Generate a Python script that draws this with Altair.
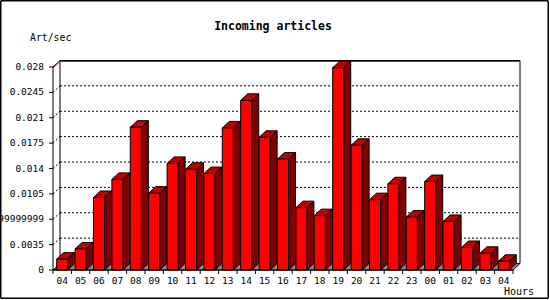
import altair as alt
import pandas as pd

# ---------------- data ----------------
HOURS = ["04", "05", "06", "07", "08", "09", "10", "11", "12", "13", "14", "15", "16",
         "17", "18", "19", "20", "21", "22", "23", "00", "01", "02", "03", "04"]
ART_PER_SEC = [0.0015, 0.0029, 0.0100, 0.0125, 0.0197, 0.0106, 0.0147, 0.0139, 0.0133,
               0.0196, 0.0234, 0.0183, 0.0153, 0.0086, 0.0075, 0.0279, 0.0172, 0.0097,
               0.0119, 0.0073, 0.0122, 0.0067, 0.0031, 0.0023, 0.0012]
Y_TICKS = [0, 0.0035, 0.007, 0.0105, 0.014, 0.0175, 0.021, 0.0245, 0.028]
Y_TICK_LABELS = ["0", "0.0035", "0.006999999999999999", "0.0105", "0.014", "0.0175",
                 "0.021", "0.0245", "0.028"]
TITLE = "Incoming articles"
Y_TITLE = "Art/sec"
X_TITLE = "Hours"

# ---------------- geometry / style ----------------
W, H = 460, 203
N = len(HOURS)
Y_MAX = Y_TICKS[-1]
DEPTH_X_PX, DEPTH_Y_PX = 7, 6.5
DX = DEPTH_X_PX * N / W          # depth in x data units
DY = DEPTH_Y_PX * Y_MAX / H      # depth in y data units
BAR_L, BAR_R = 0.2, 0.8
FONT = "DejaVu Sans Mono"

xs = alt.Scale(domain=[0, N], nice=False, zero=False)
ys = alt.Scale(domain=[0, Y_MAX], nice=False, zero=False)

# ---------------- tables ----------------
front = pd.DataFrame({
    "i": list(range(N)),
    "hour": HOURS,
    "v": ART_PER_SEC,
})
front["x0"] = front["i"] + BAR_L
front["x1"] = front["i"] + BAR_R
front["xc"] = front["i"] + 0.5
front["y0"] = 0.0

side_rows, top_rows = [], []
for i, v in enumerate(ART_PER_SEC):
    side_rows.append({"bar": i, "x": i + BAR_R, "y": v, "y2": 0.0})
    side_rows.append({"bar": i, "x": i + BAR_R + DX, "y": v + DY, "y2": DY})
    top_rows.append({"bar": i, "y": v, "x": i + BAR_L, "x2": i + BAR_R})
    top_rows.append({"bar": i, "y": v + DY, "x": i + BAR_L + DX, "x2": i + BAR_R + DX})
side = pd.DataFrame(side_rows)
top = pd.DataFrame(top_rows)

grid = pd.DataFrame({"t": Y_TICKS[1:-1]})
grid["tb"] = grid["t"] + DY
grid["xa"] = DX
grid["xb"] = N + DX
grid["x0"] = 0.0

yticks = pd.DataFrame({"t": Y_TICKS, "label": Y_TICK_LABELS})
xticks = pd.DataFrame({"b": list(range(N + 1))})

plane = pd.DataFrame({"xa": [DX], "xb": [N + DX], "ya": [DY], "yb": [Y_MAX + DY],
                      "x0": [0.0], "ytop": [Y_MAX], "xn": [float(N)], "y0": [0.0]})
floor = pd.DataFrame({"y": [0.0, DY], "x": [0.0, DX], "x2": [float(N), N + DX]})

NOAX = dict(axis=None)

# ---------------- layers ----------------
back = alt.Chart(plane).mark_rect(fill="white", stroke="black", strokeWidth=1).encode(
    x=alt.X("xa:Q", scale=xs, **NOAX), x2="xb:Q",
    y=alt.Y("ya:Q", scale=ys, **NOAX), y2="yb:Q")

floor_l = alt.Chart(floor).mark_area(orient="horizontal", fill="#8c8c8c", stroke="black",
                                     strokeWidth=1, interpolate="linear").encode(
    y=alt.Y("y:Q", scale=ys, stack=None, **NOAX),
    x=alt.X("x:Q", scale=xs, stack=None, **NOAX), x2="x2:Q")

grid_l = alt.Chart(grid).mark_rule(color="black", strokeDash=[2, 2], strokeWidth=1).encode(
    x=alt.X("xa:Q", scale=xs, **NOAX), x2="xb:Q",
    y=alt.Y("tb:Q", scale=ys, **NOAX))

conn_l = alt.Chart(grid).mark_rule(color="black", strokeDash=[2, 2], strokeWidth=1).encode(
    x=alt.X("x0:Q", scale=xs, **NOAX), x2="xa:Q",
    y=alt.Y("t:Q", scale=ys, **NOAX), y2="tb:Q")

top_line = alt.Chart(plane).mark_rule(color="red", strokeWidth=1, yOffset=1).encode(
    x=alt.X("xa:Q", scale=xs, **NOAX), x2="xb:Q",
    y=alt.Y("yb:Q", scale=ys, **NOAX))
top_diag_b = alt.Chart(plane).mark_rule(color="black", strokeWidth=1).encode(
    x=alt.X("x0:Q", scale=xs, **NOAX), x2="xa:Q",
    y=alt.Y("ytop:Q", scale=ys, **NOAX), y2="yb:Q")
top_diag_r = alt.Chart(plane).mark_rule(color="red", strokeWidth=1, yOffset=1, y2Offset=1).encode(
    x=alt.X("x0:Q", scale=xs, **NOAX), x2="xa:Q",
    y=alt.Y("ytop:Q", scale=ys, **NOAX), y2="yb:Q")

side_l = alt.Chart(side).mark_area(fill="#800000", stroke="black", strokeWidth=1,
                                   interpolate="linear").encode(
    x=alt.X("x:Q", scale=xs, **NOAX),
    y=alt.Y("y:Q", scale=ys, stack=None, **NOAX), y2="y2:Q",
    detail="bar:N")

top_l = alt.Chart(top).mark_area(orient="horizontal", fill="#c00000", stroke="black",
                                 strokeWidth=1, interpolate="linear").encode(
    y=alt.Y("y:Q", scale=ys, **NOAX),
    x=alt.X("x:Q", scale=xs, stack=None, **NOAX), x2="x2:Q",
    detail="bar:N")

front_l = alt.Chart(front).mark_rect(fill="#ff0000", stroke="black", strokeWidth=1).encode(
    x=alt.X("x0:Q", scale=xs, **NOAX), x2="x1:Q",
    y=alt.Y("y0:Q", scale=ys, **NOAX), y2="v:Q")

# ----- hand-drawn axes -----
y_domain = alt.Chart(plane).mark_rule(color="black", strokeWidth=1).encode(
    x=alt.X("x0:Q", scale=xs, **NOAX),
    y=alt.Y("y0:Q", scale=ys, **NOAX), y2="ytop:Q")
x_domain = alt.Chart(plane).mark_rule(color="black", strokeWidth=1).encode(
    x=alt.X("x0:Q", scale=xs, **NOAX), x2="xn:Q",
    y=alt.Y("y0:Q", scale=ys, **NOAX))
y_ticks_l = alt.Chart(yticks).mark_rule(color="black", strokeWidth=1, xOffset=-4).encode(
    x=alt.X(datum=0, scale=xs, **NOAX), x2=alt.X2(datum=0),
    y=alt.Y("t:Q", scale=ys, **NOAX))
y_labels_l = alt.Chart(yticks).mark_text(font=FONT, fontSize=9.5, color="black", dx=-9,
                                         align="right", baseline="middle").encode(
    x=alt.X(datum=0, scale=xs, **NOAX),
    y=alt.Y("t:Q", scale=ys, **NOAX),
    text="label:N")
x_ticks_l = alt.Chart(xticks).mark_rule(color="black", strokeWidth=1, y2Offset=4).encode(
    x=alt.X("b:Q", scale=xs, **NOAX),
    y=alt.Y(datum=0, scale=ys, **NOAX), y2=alt.Y2(datum=0))
x_labels_l = alt.Chart(front).mark_text(font=FONT, fontSize=9.5, color="black", dy=11,
                                        baseline="middle", align="center").encode(
    x=alt.X("xc:Q", scale=xs, **NOAX),
    y=alt.Y("y0:Q", scale=ys, **NOAX),
    text="hour:N")
y_title_l = alt.Chart(pd.DataFrame({"t": [Y_TITLE]})).mark_text(
    font=FONT, fontSize=9.8, color="black", align="left", baseline="alphabetic",
    dx=-23, dy=-26).encode(
    x=alt.X(datum=0, scale=xs, **NOAX), y=alt.Y(datum=Y_MAX, scale=ys, **NOAX), text="t:N")
x_title_l = alt.Chart(pd.DataFrame({"t": [X_TITLE]})).mark_text(
    font=FONT, fontSize=10, color="black", align="right", baseline="alphabetic",
    dx=21, dy=25).encode(
    x=alt.X(datum=N, scale=xs, **NOAX), y=alt.Y(datum=0, scale=ys, **NOAX), text="t:N")

# ----- outer frame -----
one = pd.DataFrame({"k": [0]})
frame_style = dict(color="black", strokeWidth=1.5)
frame_l = alt.Chart(one).mark_rule(**frame_style).encode(
    x=alt.value(-52.25), y=alt.value(-66.25), y2=alt.value(298.25 - 67))
frame_r = alt.Chart(one).mark_rule(**frame_style).encode(
    x=alt.value(548.25 - 53), y=alt.value(-66.25), y2=alt.value(298.25 - 67))
frame_t = alt.Chart(one).mark_rule(**frame_style).encode(
    x=alt.value(-52.25), x2=alt.value(548.25 - 53), y=alt.value(-66.25))
frame_b = alt.Chart(one).mark_rule(**frame_style).encode(
    x=alt.value(-52.25), x2=alt.value(548.25 - 53), y=alt.value(298.25 - 67))

chart = alt.layer(
    back, floor_l, grid_l, conn_l, top_line, top_diag_b, top_diag_r,
    side_l, top_l, front_l,
    y_domain, x_domain, y_ticks_l, y_labels_l, x_ticks_l, x_labels_l, y_title_l, x_title_l,
    frame_l, frame_r, frame_t, frame_b
).properties(
    width=W, height=H,
    title=alt.Title(TITLE, font=FONT, fontSize=11.5, fontWeight="bold", color="black",
                    anchor="middle", frame="group", dx=-10, offset=-41,
                    baseline="alphabetic"),
    autosize=alt.AutoSizeParams(type="none"),
    padding={"left": 53, "top": 67, "right": 37, "bottom": 30},
    background="white",
).configure_view(stroke=None)

chart.save("out.html", embed_options={"renderer": "svg", "actions": False})
